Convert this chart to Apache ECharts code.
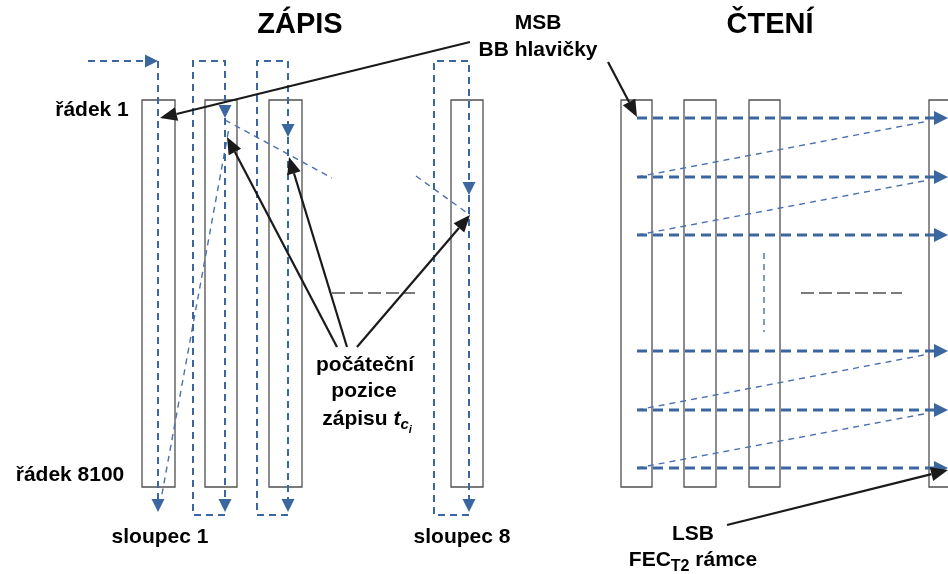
<!DOCTYPE html>
<html>
<head>
<meta charset="utf-8">
<script src="https://cdn.jsdelivr.net/npm/echarts@6/dist/echarts.min.js"></script>
<style>html,body{margin:0;padding:0;background:#fff;} #main{width:948px;height:574px;}</style>
</head>
<body>
<div id="main"></div>
<script type="text/javascript">
// column boxes [x1, y1, x2, y2] in picture units
var zapisColumns = [[142,100,175,487],[205,100,237,487],[269,100,302,487],[451,100,483,487]];
var cteniColumns = [[621,100,652,487],[684,100,716,487],[749,100,780,487],[929,100,961,487]];

// thick blue dashed paths, each ends with an arrow head
var zapisPaths = [
	[[88,61],[158,61]],
	[[158,61],[158,512]],
	[[225,515],[193,515],[193,61],[225,61],[225,118]],
	[[225,118],[225,512]],
	[[288,515],[257,515],[257,61],[288,61],[288,137]],
	[[288,137],[288,512]],
	[[469,515],[434,515],[434,61],[469,61],[469,195]],
	[[469,195],[469,512]]
];
var cteniRows = [118,177,235,351,410,468];
var cteniStartX = 637, cteniEndX = 948;

// thin blue dashed lines (no arrow)
var thinPaths = [
	[[160,505],[229,128]],
	[[225,120],[332,178]],
	[[416,176],[470,215]],
	[[637,177],[929,121]],
	[[637,235],[929,180]],
	[[637,410],[929,354]],
	[[637,468],[929,413]],
	[[764,253],[764,332]]
];

// grey "and so on" dashes
var greyPaths = [[[332,293],[415,293]], [[801,293],[902,293]]];

// black pointer arrows
var blackArrows = [
	[[470,42],[160,118]],
	[[608,62],[637,117]],
	[[337,347],[227,137]],
	[[347,347],[289,157]],
	[[357,347],[470,215]],
	[[727,525],[948,470]]
];

// texts [x, y, text, kind]
var texts = [
	[300,25,'ZÁPIS','title'],
	[770,25,'ČTENÍ','title'],
	[538,23,'MSB','label'],
	[538,50,'BB hlavičky','label'],
	[92,110,'řádek 1','label'],
	[70,475,'řádek 8100','label'],
	[160,537,'sloupec 1','label'],
	[462,537,'sloupec 8','label'],
	[365,365,'počáteční','label'],
	[364,391,'pozice','label'],
	[367,419,'zápisu {it|t}{sub|c}{ssub|i}','label'],
	[693,534,'LSB','label'],
	[693,560,'FEC{sub2|T2} rámce','label']
];

var BLUE = '#3a67a0';
var FONT = '"Liberation Sans", Arial, sans-serif';

function arrowHead(p, q, len, half) {
	var dx = q[0] - p[0], dy = q[1] - p[1];
	var d = Math.sqrt(dx * dx + dy * dy) || 1;
	var ux = dx / d, uy = dy / d;
	var bx = q[0] - ux * len, by = q[1] - uy * len;
	return {
		base: [bx, by],
		pts: [[q[0], q[1]], [bx - uy * half, by + ux * half], [bx + uy * half, by - ux * half]]
	};
}

function pathSeries(paths, style, head) {
	return {
		type: 'custom',
		coordinateSystem: 'cartesian2d',
		silent: true,
		data: paths.map(function (p) { return p[0]; }),
		renderItem: function (params, api) {
			var pts = paths[params.dataIndex].map(function (q) { return api.coord(q); });
			var children = [];
			if (head) {
				var n = pts.length;
				var ah = arrowHead(pts[n - 2], pts[n - 1], head.len, head.half);
				var linePts = pts.slice(0, n - 1).concat([ah.base]);
				children.push({ type: 'polyline', shape: { points: linePts }, style: style });
				children.push({ type: 'polygon', shape: { points: ah.pts }, style: { fill: head.color } });
			} else {
				children.push({ type: 'polyline', shape: { points: pts }, style: style });
			}
			return { type: 'group', children: children };
		}
	};
}

function boxSeries(boxes) {
	return {
		type: 'custom',
		coordinateSystem: 'cartesian2d',
		silent: true,
		data: boxes,
		renderItem: function (params, api) {
			var a = api.coord([api.value(0), api.value(1)]);
			var b = api.coord([api.value(2), api.value(3)]);
			return {
				type: 'rect',
				shape: { x: a[0], y: a[1], width: b[0] - a[0], height: b[1] - a[1] },
				style: { fill: null, stroke: '#505050', lineWidth: 1.3 }
			};
		}
	};
}

var cteniPaths = cteniRows.map(function (y) { return [[cteniStartX, y], [cteniEndX, y]]; });

var kindStyle = {
	title: { fontSize: 29, color: '#000' },
	label: { fontSize: 21, color: '#000' }
};

var myChart = echarts.init(document.getElementById('main'));

var option = {
	backgroundColor: '#ffffff',
	animation: false,
	grid: { left: 0, right: 0, top: 0, bottom: 0 },
	xAxis: { type: 'value', min: 0, max: 948, show: false },
	yAxis: { type: 'value', min: 0, max: 574, inverse: true, show: false },
	series: [
		boxSeries(zapisColumns),
		boxSeries(cteniColumns),
		pathSeries(thinPaths, { stroke: '#4d6fae', lineWidth: 1.4, lineDash: [6, 5], fill: null }),
		pathSeries(greyPaths, { stroke: '#505050', lineWidth: 1.5, lineDash: [13, 5], fill: null }),
		pathSeries(zapisPaths, { stroke: BLUE, lineWidth: 2, lineDash: [7, 5], fill: null },
			{ len: 13, half: 6.5, color: BLUE }),
		pathSeries(cteniPaths, { stroke: BLUE, lineWidth: 3, lineDash: [10, 6], fill: null },
			{ len: 14, half: 7, color: BLUE }),
		pathSeries(blackArrows, { stroke: '#1a1a1a', lineWidth: 2.2, fill: null },
			{ len: 17, half: 7, color: '#1a1a1a' }),
		{
			type: 'scatter',
			silent: true,
			symbolSize: 0,
			itemStyle: { opacity: 1 },
			data: texts.map(function (t) {
				return {
					value: [t[0], t[1]],
					name: t[2],
					label: kindStyle[t[3]]
				};
			}),
			label: {
				show: true,
				position: 'inside',
				formatter: function (p) { return p.name; },
				color: '#000',
				textBorderWidth: 0,
				fontFamily: FONT,
				fontWeight: 'bold',
				fontSize: 21,
				rich: {
					it: { fontFamily: FONT, fontWeight: 'bold', fontStyle: 'italic', fontSize: 21, color: '#000' },
					sub: { fontFamily: FONT, fontWeight: 'bold', fontStyle: 'italic', fontSize: 15, color: '#000', padding: [12, 0, 0, 0] },
					ssub: { fontFamily: FONT, fontWeight: 'bold', fontStyle: 'italic', fontSize: 11, color: '#000', padding: [22, 0, 0, 0] },
					sub2: { fontFamily: FONT, fontWeight: 'bold', fontSize: 16, color: '#000', padding: [14, 0, 0, 0] }
				}
			}
		}
	]
};

myChart.setOption(option);
</script>
</body>
</html>
